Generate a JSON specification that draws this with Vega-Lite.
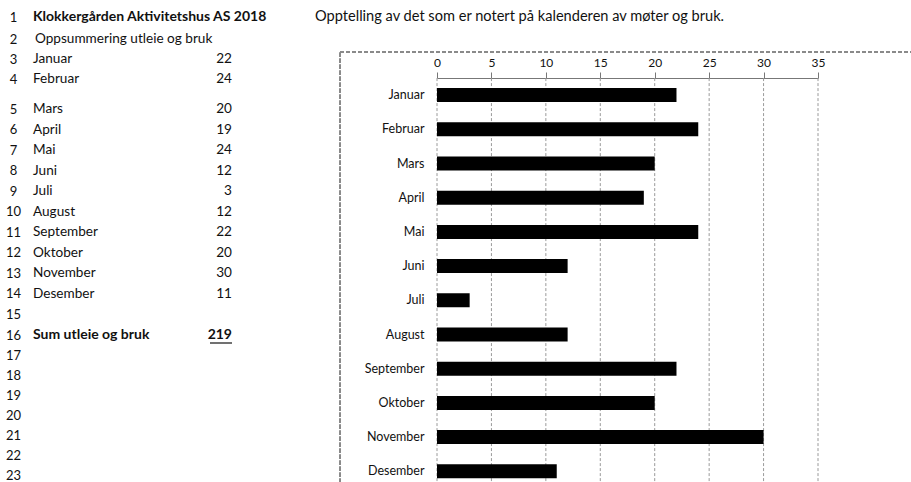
{
  "$schema": "https://vega.github.io/schema/vega-lite/v6.json",
  "width": 911,
  "height": 482,
  "autosize": "none",
  "padding": 0,
  "background": "white",
  "config": {"view": {"stroke": null}, "font": "Lato", "text": {"font": "Lato", "color": "#111"}},
  "datasets": {
    "months": [
      {"month": "Januar", "value": 22},
      {"month": "Februar", "value": 24},
      {"month": "Mars", "value": 20},
      {"month": "April", "value": 19},
      {"month": "Mai", "value": 24},
      {"month": "Juni", "value": 12},
      {"month": "Juli", "value": 3},
      {"month": "August", "value": 12},
      {"month": "September", "value": 22},
      {"month": "Oktober", "value": 20},
      {"month": "November", "value": 30},
      {"month": "Desember", "value": 11}
    ],
    "gridvalues": [
      {"value": 0}, {"value": 5}, {"value": 10}, {"value": 15}, {"value": 20}, {"value": 25}, {"value": 30}, {"value": 35}
    ],
    "sheet": [
      {"row": 1, "col": "label", "edge": 0, "text": "Klokkergården Aktivitetshus AS 2018", "weight": "bold"},
      {"row": 1, "col": "note", "edge": 3, "text": "Opptelling av det som er notert på kalenderen av møter og bruk.", "weight": "normal"},
      {"row": 2, "col": "label", "edge": 0.02, "text": "Oppsummering  utleie og bruk", "weight": "normal"},
      {"row": 3, "col": "label", "edge": 0, "text": "Januar", "weight": "normal"},
      {"row": 3, "col": "value", "edge": 2, "text": "22", "weight": "normal"},
      {"row": 4, "col": "label", "edge": 0, "text": "Februar", "weight": "normal"},
      {"row": 4, "col": "value", "edge": 2, "text": "24", "weight": "normal"},
      {"row": 5, "col": "label", "edge": 0, "text": "Mars", "weight": "normal"},
      {"row": 5, "col": "value", "edge": 2, "text": "20", "weight": "normal"},
      {"row": 6, "col": "label", "edge": 0, "text": "April", "weight": "normal"},
      {"row": 6, "col": "value", "edge": 2, "text": "19", "weight": "normal"},
      {"row": 7, "col": "label", "edge": 0, "text": "Mai", "weight": "normal"},
      {"row": 7, "col": "value", "edge": 2, "text": "24", "weight": "normal"},
      {"row": 8, "col": "label", "edge": 0, "text": "Juni", "weight": "normal"},
      {"row": 8, "col": "value", "edge": 2, "text": "12", "weight": "normal"},
      {"row": 9, "col": "label", "edge": 0, "text": "Juli", "weight": "normal"},
      {"row": 9, "col": "value", "edge": 2, "text": "3", "weight": "normal"},
      {"row": 10, "col": "label", "edge": 0, "text": "August", "weight": "normal"},
      {"row": 10, "col": "value", "edge": 2, "text": "12", "weight": "normal"},
      {"row": 11, "col": "label", "edge": 0, "text": "September", "weight": "normal"},
      {"row": 11, "col": "value", "edge": 2, "text": "22", "weight": "normal"},
      {"row": 12, "col": "label", "edge": 0, "text": "Oktober", "weight": "normal"},
      {"row": 12, "col": "value", "edge": 2, "text": "20", "weight": "normal"},
      {"row": 13, "col": "label", "edge": 0, "text": "November", "weight": "normal"},
      {"row": 13, "col": "value", "edge": 2, "text": "30", "weight": "normal"},
      {"row": 14, "col": "label", "edge": 0, "text": "Desember", "weight": "normal"},
      {"row": 14, "col": "value", "edge": 2, "text": "11", "weight": "normal"},
      {"row": 16, "col": "label", "edge": 0, "text": "Sum utleie og bruk", "weight": "bold"},
      {"row": 16, "col": "value", "edge": 2, "text": "219", "weight": "bold"}
    ]
  },
  "layer": [
    {
      "data": {"name": "sheet"},
      "encoding": {
        "x": {"field": "edge", "type": "quantitative", "scale": {"domain": [0, 2, 3], "range": [33, 232, 315], "zero": false, "nice": false}, "axis": null},
        "y": {
          "field": "row", "type": "quantitative",
          "scale": {"domain": [1, 2, 4, 5, 16, 23], "range": [17, 39, 79, 109, 335, 475], "zero": false, "nice": false},
          "axis": {"orient": "left", "offset": -20, "values": [1,2,3,4,5,6,7,8,9,10,11,12,13,14,15,16,17,18,19,20,21,22,23], "format": "d", "domain": false, "ticks": false, "grid": false, "labelAlign": "center", "labelPadding": 7, "labelFontSize": 13, "labelColor": "#111", "labelFont": "Lato", "labelOverlap": false, "labelBound": false, "title": null}
        },
        "text": {"field": "text"}
      },
      "layer": [
        {"transform": [{"filter": "datum.col == 'label' && datum.weight == 'normal'"}], "mark": {"type": "text", "align": "left", "fontSize": 13.6}},
        {"transform": [{"filter": "datum.col == 'label' && datum.weight == 'bold'"}], "mark": {"type": "text", "align": "left", "fontSize": 14, "fontWeight": "bold"}},
        {"transform": [{"filter": "datum.col == 'value' && datum.weight == 'normal'"}], "mark": {"type": "text", "align": "right", "fontSize": 13.6}},
        {"transform": [{"filter": "datum.col == 'value' && datum.weight == 'bold'"}], "mark": {"type": "text", "align": "right", "fontSize": 14, "fontWeight": "bold"}},
        {"transform": [{"filter": "datum.col == 'value' && datum.weight == 'bold'"}], "mark": {"type": "rule", "color": "#111", "strokeWidth": 1.2, "xOffset": -22, "yOffset": 8, "y2Offset": 8},
         "encoding": {"x2": {"field": "edge"}, "y2": {"field": "row"}}},
        {"transform": [{"filter": "datum.col == 'note'"}], "mark": {"type": "text", "align": "left", "fontSize": 14.6}}
      ]
    },
    {
      "layer": [
        {
          "data": {"name": "months"},
          "mark": {"type": "rect", "filled": false, "stroke": "#8a8a8a", "strokeWidth": 1, "strokeDash": [4, 2], "yOffset": -36, "y2Offset": 60},
          "encoding": {
            "x": {"datum": -8.91, "type": "quantitative", "scale": {"domain": [0, 35], "range": [437, 818], "zero": false, "nice": false},
              "axis": {"orient": "top", "offset": -78, "values": [0, 5, 10, 15, 20, 25, 30, 35], "domain": true, "domainColor": "#777", "ticks": true, "tickSize": 6, "tickColor": "#777", "grid": false, "labelFontSize": 12, "labelColor": "#111", "labelFont": "Lato", "labelPadding": 3, "labelFlush": false, "labelOverlap": false, "title": null}},
            "x2": {"datum": 60},
            "y": {"datum": "Januar", "type": "nominal", "bandPosition": 0,
              "scale": {"domain": ["Januar","Februar","Mars","April","Mai","Juni","Juli","August","September","Oktober","November","Desember"], "range": [78, 488.4], "paddingInner": 0.59, "paddingOuter": 0.295},
              "axis": {"orient": "left", "offset": -437, "domain": false, "ticks": false, "grid": false, "labelPadding": 13, "labelFontSize": 12.5, "labelColor": "#111", "labelFont": "Lato", "title": null}},
            "y2": {"datum": "Desember"}
          }
        },
        {
          "data": {"name": "gridvalues"},
          "mark": {"type": "rule", "color": "#9a9a9a", "strokeWidth": 1, "strokeDash": [3, 2], "yOffset": -10, "y2Offset": 40},
          "encoding": {
            "x": {"field": "value", "type": "quantitative", "scale": {"domain": [0, 35], "range": [437, 818], "zero": false, "nice": false},
              "axis": {"orient": "top", "offset": -78, "values": [0, 5, 10, 15, 20, 25, 30, 35], "domain": true, "domainColor": "#777", "ticks": true, "tickSize": 6, "tickColor": "#777", "grid": false, "labelFontSize": 12, "labelColor": "#111", "labelFont": "Lato", "labelPadding": 3, "labelFlush": false, "labelOverlap": false, "title": null}},
            "y": {"datum": "Januar", "type": "nominal", "bandPosition": 0,
              "axis": {"orient": "left", "offset": -437, "domain": false, "ticks": false, "grid": false, "labelPadding": 13, "labelFontSize": 12.5, "labelColor": "#111", "labelFont": "Lato", "title": null}},
            "y2": {"datum": "Desember"}
          }
        },
        {
          "data": {"name": "months"},
          "mark": {"type": "bar", "color": "#000"},
          "encoding": {
            "x": {
              "field": "value", "type": "quantitative",
              "scale": {"domain": [0, 35], "range": [437, 818], "zero": false, "nice": false},
              "axis": {"orient": "top", "offset": -78, "values": [0, 5, 10, 15, 20, 25, 30, 35], "domain": true, "domainColor": "#777", "ticks": true, "tickSize": 6, "tickColor": "#777", "grid": false, "labelFontSize": 12, "labelColor": "#111", "labelFont": "Lato", "labelPadding": 3, "labelFlush": false, "labelOverlap": false, "title": null}
            },
            "y": {
              "field": "month", "type": "nominal", "sort": null,
              "scale": {"domain": ["Januar","Februar","Mars","April","Mai","Juni","Juli","August","September","Oktober","November","Desember"], "range": [78, 488.4], "paddingInner": 0.59, "paddingOuter": 0.295},
              "axis": {"orient": "left", "offset": -437, "domain": false, "ticks": false, "grid": false, "labelPadding": 13, "labelFontSize": 12.5, "labelColor": "#111", "labelFont": "Lato", "title": null}
            }
          }
        }
      ]
    }
  ],
  "resolve": {"scale": {"x": "independent", "y": "independent"}, "axis": {"x": "independent", "y": "independent"}}
}
